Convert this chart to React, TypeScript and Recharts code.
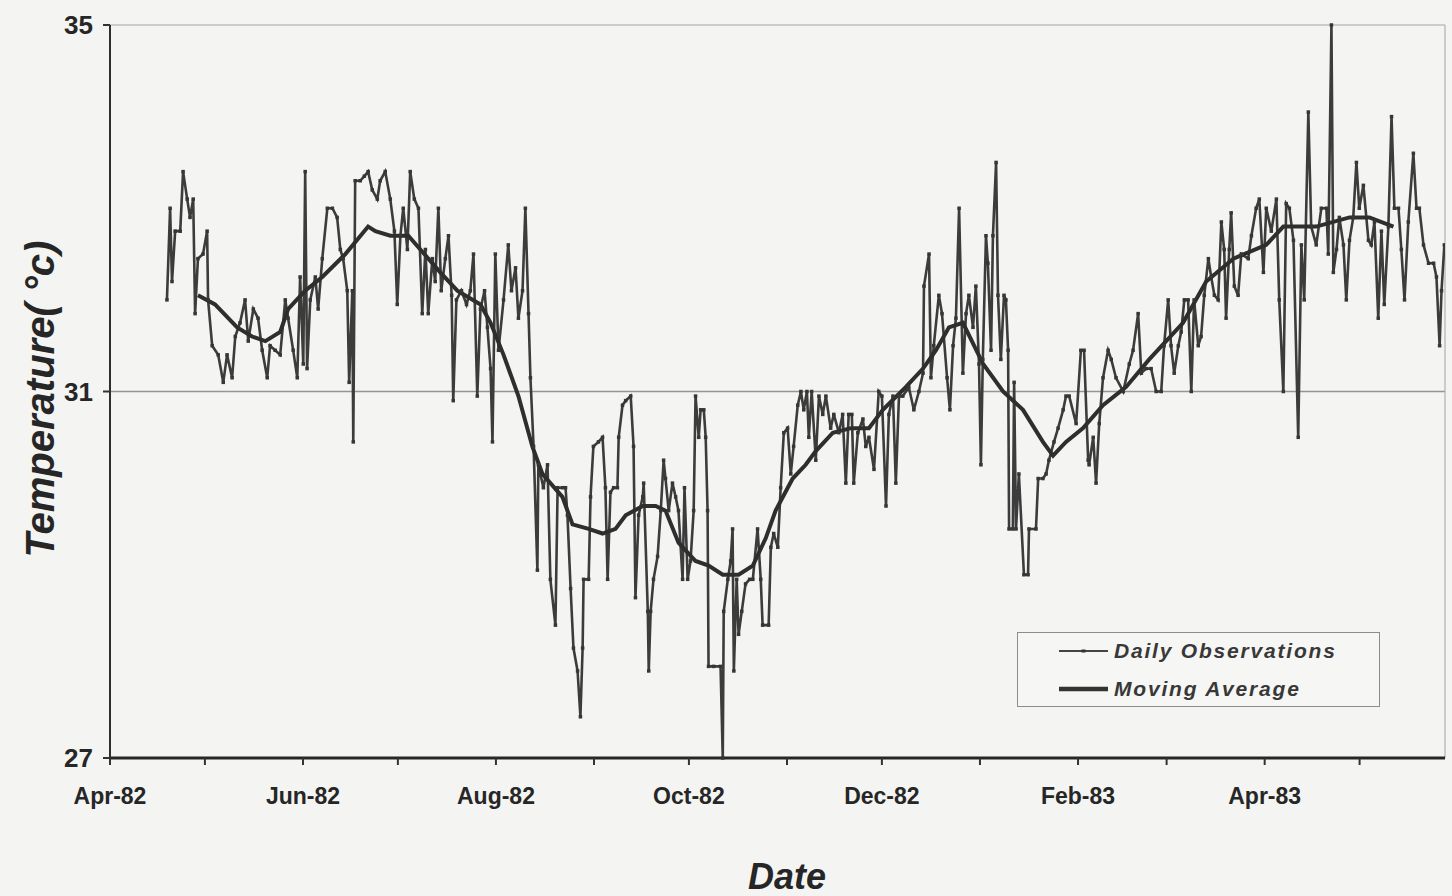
import React from "react";
import { LineChart, Line, XAxis, YAxis, ReferenceLine, Legend, Label } from "recharts";

// Days counted from 1 Apr 1982
const obsDays = [
  18.0, 19.0, 19.6, 20.6, 22.2, 23.1, 24.4, 25.3, 26.3, 26.9,
  27.8, 29.4, 30.7, 31.0, 32.3, 34.2, 35.8, 37.0, 38.6, 39.6,
  41.1, 42.7, 43.7, 45.3, 46.8, 48.1, 49.7, 50.6, 52.2, 53.8,
  55.4, 56.3, 57.9, 59.2, 60.1, 61.1, 61.7, 62.3, 63.3, 64.9,
  65.8, 67.1, 68.7, 70.3, 71.8, 72.8, 73.7, 75.0, 75.6, 76.6,
  76.9, 77.5, 79.1, 80.4, 81.6, 82.9, 84.5, 85.4, 87.0, 88.6,
  89.9, 90.8, 91.8, 92.7, 94.0, 94.9, 96.2, 97.5, 98.7, 99.7,
  100.6, 101.9, 102.8, 103.8, 104.7, 106.0, 107.0, 108.0, 108.5, 109.5,
  111.1, 112.7, 113.9, 114.9, 116.1, 117.1, 118.4, 119.3, 120.3, 120.9,
  121.8, 122.8, 124.4, 125.9, 126.9, 128.2, 129.1, 130.4, 131.3, 132.3,
  132.9, 133.9, 135.1, 135.4, 137.0, 138.3, 139.2, 140.8, 141.5, 143.0,
  144.0, 144.6, 145.6, 146.5, 147.8, 148.7, 149.4, 149.7, 151.3, 151.9,
  152.8, 154.4, 155.7, 156.6, 157.3, 158.2, 159.2, 160.4, 160.8, 162.0,
  163.0, 164.6, 165.5, 166.1, 167.1, 168.4, 168.7, 170.0, 170.3, 170.9,
  171.8, 173.1, 174.1, 175.0, 175.6, 176.6, 177.8, 178.8, 179.7, 181.0,
  181.6, 182.6, 183.5, 184.5, 185.1, 186.1, 186.7, 187.7, 188.3, 188.9,
  189.2, 190.8, 193.0, 193.7, 194.0, 195.3, 196.2, 196.8, 197.2, 198.1,
  198.7, 199.7, 200.9, 202.2, 203.2, 204.7, 205.7, 206.3, 208.2, 208.9,
  209.8, 211.1, 212.0, 213.0, 214.2, 215.2, 216.1, 217.4, 218.4, 219.3,
  220.3, 220.9, 221.8, 223.1, 224.1, 225.3, 226.3, 227.8, 228.8, 230.4,
  231.6, 232.6, 233.5, 234.5, 235.1, 236.4, 238.0, 238.9, 239.9, 241.5,
  243.0, 244.0, 245.3, 246.2, 247.5, 248.4, 249.4, 250.6, 252.5, 254.1,
  255.7, 257.0, 257.3, 258.9, 259.5, 260.4, 262.0, 263.0, 264.6, 265.5,
  266.5, 267.4, 268.4, 269.6, 270.6, 271.5, 272.8, 273.7, 274.7, 275.3,
  275.9, 276.9, 277.5, 278.5, 279.1, 280.1, 280.7, 281.6, 282.6, 283.2,
  283.9, 284.2, 285.4, 285.8, 286.4, 287.3, 288.9, 290.2, 290.5, 292.7,
  293.4, 294.9, 295.9, 296.8, 298.4, 299.7, 301.3, 302.2, 303.2, 305.4,
  306.9, 307.9, 309.2, 309.5, 310.8, 311.7, 312.7, 313.9, 315.5, 316.5,
  318.0, 320.3, 322.2, 323.4, 325.0, 326.0, 327.5, 329.1, 330.7, 332.3,
  333.2, 334.5, 335.4, 336.4, 337.7, 338.6, 339.6, 340.8, 341.8, 342.7,
  344.0, 344.9, 345.9, 347.2, 348.1, 349.1, 350.3, 351.3, 352.2, 352.8,
  353.8, 354.4, 355.4, 356.6, 357.6, 359.8, 360.8, 362.3, 363.3, 364.6,
  365.5, 367.1, 368.7, 369.6, 370.9, 371.8, 372.8, 374.1, 375.6, 376.6,
  377.5, 378.8, 379.7, 381.3, 382.9, 384.5, 385.1, 386.1, 386.7, 387.7,
  388.6, 389.9, 390.8, 391.8, 393.0, 394.0, 394.9, 396.2, 397.8, 398.7,
  399.7, 400.9, 401.9, 402.8, 404.1, 405.1, 406.0, 407.3, 408.2, 409.2,
  410.4, 412.0, 413.0, 413.9, 415.2, 416.8, 418.4, 419.3, 420.3, 420.9, 421.8,
];

const obsTemps = [
  32.0, 33.0, 32.2, 32.75, 32.75, 33.4, 33.1, 32.9, 33.1, 31.85,
  32.45, 32.5, 32.75, 32.0, 31.5, 31.4, 31.1, 31.4, 31.15, 31.6,
  31.75, 32.0, 31.55, 31.9, 31.8, 31.45, 31.15, 31.5, 31.45, 31.4,
  32.0, 31.8, 31.45, 31.15, 32.25, 31.3, 33.4, 31.25, 32.0, 32.25,
  31.9, 32.45, 33.0, 33.0, 32.9, 32.55, 32.45, 32.1, 31.1, 32.1,
  30.45, 33.3, 33.3, 33.35, 33.4, 33.2, 33.1, 33.3, 33.4, 33.1,
  32.75, 31.95, 32.7, 33.0, 32.55, 33.4, 33.1, 33.0, 31.85, 32.55,
  31.85, 32.45, 32.2, 33.0, 32.1, 32.45, 32.7, 32.05, 30.9, 32.0,
  32.1, 31.95, 32.1, 32.5, 30.95, 31.9, 32.1, 31.7, 31.25, 30.45,
  32.5, 31.45, 32.0, 32.6, 32.1, 32.35, 31.8, 32.1, 33.0, 31.85,
  31.15, 30.4, 29.05, 30.2, 29.95, 30.2, 28.95, 28.45, 29.95, 29.95,
  29.95, 29.65, 28.85, 28.2, 27.95, 27.45, 28.2, 28.95, 28.95, 29.85,
  30.4, 30.45, 30.5, 29.95, 28.95, 29.9, 29.95, 29.95, 30.5, 30.85,
  30.9, 30.95, 30.4, 28.75, 29.65, 29.85, 30.0, 28.6, 27.95, 28.6,
  28.95, 29.2, 29.7, 30.25, 30.05, 29.7, 30.0, 29.85, 29.7, 28.95,
  29.95, 28.95, 29.15, 29.7, 30.95, 30.5, 30.8, 30.8, 30.5, 29.7,
  28.0, 28.0, 28.0, 27.0, 28.6, 28.95, 29.15, 29.5, 27.95, 28.95,
  28.35, 28.6, 28.9, 28.95, 28.95, 29.5, 28.95, 28.45, 28.45, 29.3,
  29.45, 29.3, 29.95, 30.55, 30.6, 30.1, 30.4, 30.85, 31.0, 30.8,
  31.0, 30.5, 31.0, 30.25, 30.95, 30.75, 30.95, 30.6, 30.75, 30.55,
  30.75, 30.0, 30.75, 30.75, 30.0, 30.55, 30.7, 30.4, 30.5, 30.15,
  31.0, 30.95, 29.75, 30.75, 30.95, 30.0, 30.95, 30.95, 31.05, 30.8,
  31.0, 31.2, 32.15, 32.5, 31.15, 31.5, 32.05, 31.85, 31.15, 30.8,
  31.5, 31.8, 33.0, 31.2, 31.85, 32.05, 31.7, 32.15, 31.3, 30.2,
  31.35, 32.7, 32.4, 31.45, 32.7, 33.5, 32.05, 31.35, 32.05, 32.0,
  31.45, 29.5, 29.5, 31.1, 29.5, 30.1, 29.0, 29.0, 29.5, 29.5,
  30.05, 30.05, 30.1, 30.25, 30.45, 30.6, 30.8, 30.95, 30.95, 30.65,
  31.45, 31.45, 30.25, 30.2, 30.5, 30.0, 30.65, 31.15, 31.45, 31.35,
  31.15, 31.0, 31.3, 31.45, 31.85, 31.2, 31.25, 31.25, 31.0, 31.0,
  31.5, 32.0, 31.5, 31.2, 31.5, 31.65, 32.0, 32.0, 31.0, 32.0,
  31.5, 31.6, 32.05, 32.45, 32.25, 32.05, 32.0, 32.85, 32.55, 31.8,
  32.55, 32.95, 32.15, 32.05, 32.5, 32.45, 32.7, 33.0, 33.1, 32.3,
  33.0, 32.75, 33.1, 32.0, 31.0, 33.05, 33.0, 32.65, 30.5, 32.6,
  32.0, 34.05, 32.8, 32.6, 33.0, 33.0, 32.5, 35.0, 32.3, 32.55,
  32.9, 32.6, 32.0, 32.65, 32.9, 33.5, 33.0, 33.25, 32.65, 32.6,
  32.85, 31.8, 32.75, 31.95, 32.8, 34.0, 33.0, 33.0, 32.55, 32.0,
  32.85, 33.6, 33.0, 33.0, 32.6, 32.4, 32.4, 32.25, 31.5, 32.1, 32.6,
];

const avgDays = [
  27.8, 33.2, 40.2, 44.9, 49.1, 53.8, 56.3, 61.7, 67.1, 74.4,
  81.6, 83.9, 88.6, 94.3, 98.1, 104.4, 109.8, 117.1, 120.3, 124.4,
  129.1, 133.5, 136.7, 143.0, 146.2, 151.3, 155.7, 159.8, 163.0, 168.4,
  172.5, 175.6, 179.7, 185.1, 189.2, 193.7, 198.7, 203.2, 207.3, 210.4,
  215.8, 219.9, 223.1, 228.5, 234.2, 239.9, 244.3, 251.6, 257.0, 261.1,
  265.2, 269.6, 276.0, 282.3, 288.6, 294.9, 298.1, 302.2, 307.6, 313.9,
  321.2, 328.5, 339.2, 346.5, 355.1, 365.5, 370.9, 381.3, 391.8, 398.1, 405.7,
];

const avgTemps = [
  32.05, 31.95, 31.7, 31.6, 31.55, 31.65, 31.9, 32.1, 32.25, 32.5,
  32.8, 32.75, 32.7, 32.7, 32.55, 32.3, 32.1, 31.95, 31.75, 31.4,
  30.95, 30.4, 30.1, 29.85, 29.55, 29.5, 29.45, 29.5, 29.65, 29.75,
  29.75, 29.7, 29.35, 29.15, 29.1, 29.0, 29.0, 29.1, 29.4, 29.7,
  30.05, 30.2, 30.35, 30.55, 30.6, 30.6, 30.8, 31.05, 31.25, 31.45,
  31.7, 31.75, 31.3, 31.0, 30.8, 30.45, 30.3, 30.45, 30.6, 30.85,
  31.05, 31.35, 31.75, 32.2, 32.45, 32.6, 32.8, 32.8, 32.9, 32.9, 32.8,
];

const monthTicks = [0, 30, 61, 91, 122, 153, 183, 214, 244, 275, 306, 334, 365, 395];
const monthLabels = ["Apr-82", "", "Jun-82", "", "Aug-82", "", "Oct-82", "", "Dec-82", "", "Feb-83", "", "Apr-83", ""];
const tempTicks = [27, 31, 35];
const seriesNames = ["Daily Observations", "Moving Average"];
const dayRange = [0, 422];
const tempRange = [27, 35];

const dailyData = obsDays.map((day, i) => ({ day, temp: obsTemps[i] }));
const avgData = avgDays.map((day, i) => ({ day, temp: avgTemps[i] }));

const FONT = '"Liberation Sans", Arial, Helvetica, sans-serif';
const INK = "#262626";

const MonthTick = (props: any) => {
  const { x, y, payload } = props;
  const idx = monthTicks.indexOf(payload.value);
  const text = idx >= 0 ? monthLabels[idx] : "";
  if (!text) return <g />;
  return (
    <text x={x} y={y} dy="0.71em" textAnchor="middle" fontFamily={FONT} fontWeight={700} fontSize={23} fill={INK}>
      {text}
    </text>
  );
};

const ObsDot = (props: any) => {
  const { cx, cy, index } = props;
  if (cx == null || cy == null) return <g key={`o-${index}`} />;
  return <rect key={`o-${index}`} x={cx - 1.75} y={cy - 1.75} width={3.5} height={3.5} fill="#363636" />;
};

const LegendBox = () => (
  <div
    style={{
      boxSizing: "border-box",
      width: 363,
      height: 75,
      border: "1.5px solid #8c8c8c",
      background: "#f6f6f4",
      position: "relative",
      fontFamily: FONT,
      fontStyle: "italic",
      fontWeight: 700,
      fontSize: 21,
      letterSpacing: 1.8,
      color: "#383838",
    }}
  >
    {seriesNames.map((name, i) => (
      <div
        key={name}
        style={{
          position: "absolute",
          left: 40,
          top: (i === 0 ? 18 : 56) - 13,
          height: 26,
          display: "flex",
          alignItems: "center",
          whiteSpace: "nowrap",
        }}
      >
        <svg width={52} height={26} style={{ display: "block" }}>
          {i === 0 ? (
            <g>
              <line x1={1} x2={50} y1={13} y2={13} stroke="#444" strokeWidth={1.8} />
              <rect x={23.5} y={11.5} width={4} height={3} fill="#333" />
            </g>
          ) : (
            <line x1={1} x2={50} y1={13} y2={13} stroke="#333" strokeWidth={4.5} />
          )}
        </svg>
        <span style={{ marginLeft: 4 }}>{name}</span>
      </div>
    ))}
  </div>
);

export default function App() {
  return (
    <div style={{ width: 1452, height: 896, background: "#f4f4f2", position: "relative" }}>
      <style>{"body{margin:0;overflow:hidden;background:#f4f4f2}"}</style>
      <LineChart width={1452} height={896} margin={{ top: 25, right: 7, bottom: 0, left: 0 }}>
        <XAxis
          dataKey="day"
          type="number"
          domain={dayRange}
          ticks={monthTicks}
          allowDataOverflow
          height={138}
          interval={0}
          axisLine={{ stroke: "#262626", strokeWidth: 3 }}
          tickLine={{ stroke: "#333", strokeWidth: 2 }}
          tickSize={7}
          tickMargin={23}
          tick={<MonthTick />}
        >
          <Label
            content={() => (
              <text x={787} y={889} textAnchor="middle" fontFamily={FONT} fontStyle="italic" fontWeight={700} fontSize={36} fill={INK}>
                Date
              </text>
            )}
          />
        </XAxis>
        <YAxis
          type="number"
          domain={tempRange}
          ticks={tempTicks}
          width={110}
          axisLine={{ stroke: "#2e2e2e", strokeWidth: 2 }}
          tickLine={{ stroke: "#333", strokeWidth: 2 }}
          tickSize={7}
          tickMargin={10}
          tick={{ fontFamily: FONT, fontWeight: 700, fontSize: 26, fill: INK }}
        >
          <Label
            content={() => (
              <text
                x={40}
                y={399}
                transform="rotate(-90, 40, 399)"
                textAnchor="middle"
                dominantBaseline="central"
                fontFamily={FONT}
                fontStyle="italic"
                fontWeight={700}
                fontSize={40}
                fill={INK}
              >
                Temperature( °c)
              </text>
            )}
          />
        </YAxis>
        <ReferenceLine y={35} stroke="#a3a3a3" strokeWidth={1.2} />
        <ReferenceLine y={31} stroke="#959595" strokeWidth={1.5} />
        <ReferenceLine x={dayRange[1]} stroke="#b0b0b0" strokeWidth={1.2} />
        <Line
          data={dailyData}
          dataKey="temp"
          name={seriesNames[0]}
          type="linear"
          stroke="#3c3c3c"
          strokeWidth={2.6}
          dot={ObsDot}
          activeDot={false}
          isAnimationActive={false}
        />
        <Line
          data={avgData}
          dataKey="temp"
          name={seriesNames[1]}
          type="linear"
          stroke="#2e2e2e"
          strokeWidth={4}
          dot={false}
          activeDot={false}
          isAnimationActive={false}
        />
        <Legend
          layout="horizontal"
          verticalAlign="middle"
          align="center"
          width={363}
          height={75}
          wrapperStyle={{ left: 1017, top: 632, width: 363, height: 75 }}
          content={LegendBox}
        />
      </LineChart>
    </div>
  );
}
